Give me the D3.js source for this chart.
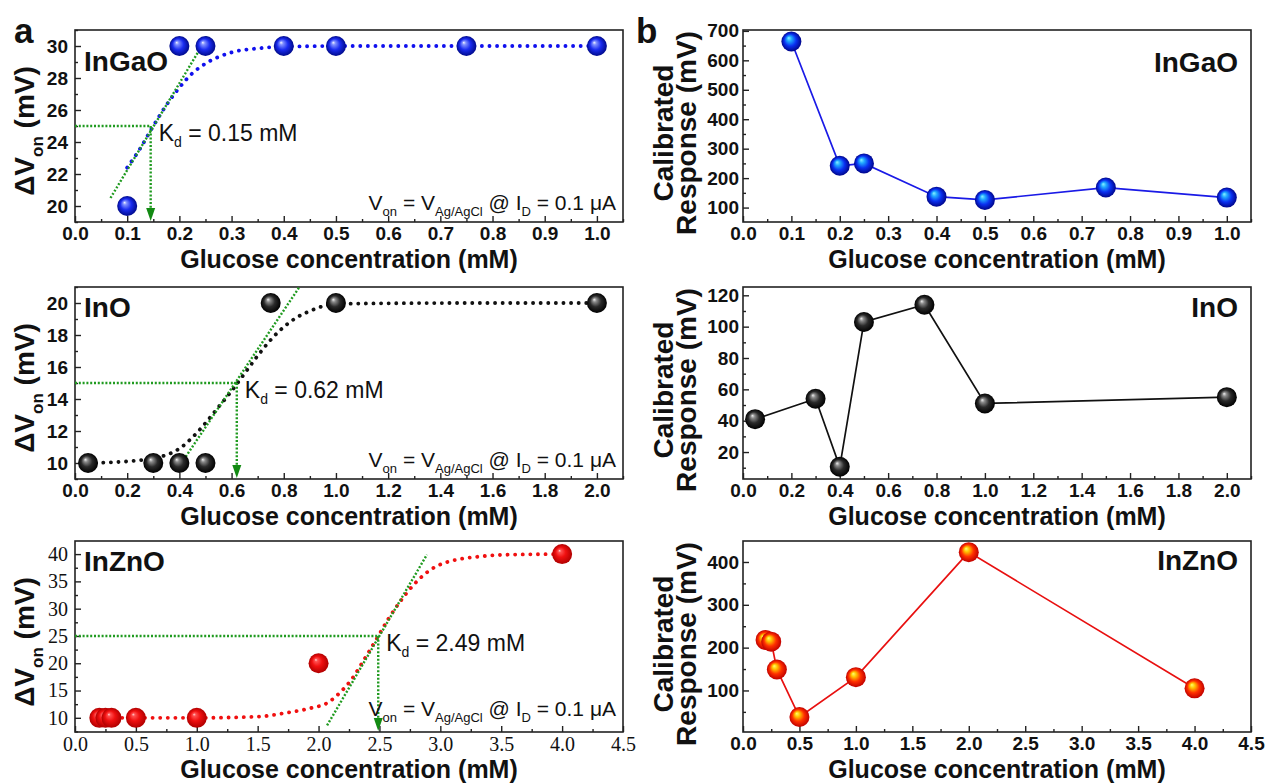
<!DOCTYPE html>
<html>
<head>
<meta charset="utf-8">
<title>Glucose response: InGaO, InO, InZnO</title>
<style>
    body { margin: 0; background: #fff; }
    text { font-family: "Liberation Sans", Arial, sans-serif; fill: #111; }
    .axis text { font-size: 19px; font-weight: bold; }
    .axis.serif text { font-family: "Liberation Serif", "Times New Roman", serif; font-weight: normal; font-size: 20px; }
    .xtitle { font-size: 25px; font-weight: bold; }
    .ytitle { font-size: 28px; font-weight: bold; }
    .panel-letter { font-size: 35px; font-weight: bold; }
    .material { font-size: 28px; font-weight: bold; }
    .kd { font-size: 23px; }
    .cond { font-size: 21px; }
    .frame { fill: none; stroke: #222; stroke-width: 1.6; }
</style>
</head>
<body>
<svg id="chart" width="1267" height="784"></svg>

<script src="https://cdn.jsdelivr.net/npm/d3@7"></script>
<script>
    // ---- panel a: threshold shift vs glucose, with fitted curve and tangent ----
    const concInGaO = [0.1, 0.2, 0.25, 0.4, 0.5, 0.75, 1.0];
    const dVonInGaO = [20, 30, 30, 30, 30, 30, 30];
    const fitXInGaO = [0.1, 0.125, 0.15, 0.175, 0.2, 0.225, 0.25, 0.3, 0.35, 0.4, 0.5, 0.75, 1.0];
    const fitYInGaO = [22.4, 23.6, 25, 26.3, 27.4, 28.3, 28.9, 29.6, 29.85, 29.95, 30, 30, 30];
    const tanXInGaO = [0.068, 0.254];
    const tanYInGaO = [20.5, 30.6];

    const concInO = [0.05, 0.3, 0.4, 0.5, 0.75, 1.0, 2.0];
    const dVonInO = [10, 10, 10, 10, 20, 20, 20];
    const fitXInO = [0.05, 0.2, 0.3, 0.35, 0.4, 0.45, 0.5, 0.55, 0.6, 0.65, 0.7, 0.75, 0.8, 0.85, 0.9, 0.95, 1.0, 1.5, 2.0];
    const fitYInO = [10, 10.1, 10.3, 10.5, 10.9, 11.6, 12.5, 13.5, 14.5, 15.6, 16.7, 17.7, 18.5, 19.1, 19.5, 19.8, 19.95, 20, 20];
    const tanXInO = [0.40, 0.86];
    const tanYInO = [9.8, 21];

    const concInZnO = [0.2, 0.25, 0.3, 0.5, 1.0, 2.0, 4.0];
    const dVonInZnO = [10, 10, 10, 10, 10, 20, 40];
    const fitXInZnO = [0.2, 0.5, 1.0, 1.5, 1.73, 1.94, 2.07, 2.17, 2.27, 2.37, 2.47, 2.57, 2.67, 2.77, 2.87, 2.97, 3.1, 3.3, 3.58, 4.0];
    const fitYInZnO = [10, 10, 10, 10.2, 10.9, 11.8, 12.7, 14.5, 17.0, 20.5, 24.2, 28.0, 31.3, 34.1, 36.3, 37.8, 38.8, 39.5, 39.9, 40];
    const tanXInZnO = [2.07, 2.89];
    const tanYInZnO = [8.6, 39.9];

    const kdText = ["0.15", "0.62", "2.49"];
    const kdX = [0.145, 0.62, 2.49];
    const halfY = [25, 15, 25];

    // ---- panel b: calibrated response ----
    const respInGaO = [664, 242, 250, 137, 126, 168, 134];
    const respInO = [41, 54, 10.6, 103, 114, 51, 55];
    const respInZnO = [218, 214, 149, 38, 131, 423, 105];

    // tick labels
    const xTicks1 = [0, 0.1, 0.2, 0.3, 0.4, 0.5, 0.6, 0.7, 0.8, 0.9, 1.0];
    const xTicks2 = [0, 0.2, 0.4, 0.6, 0.8, 1.0, 1.2, 1.4, 1.6, 1.8, 2.0];
    const xTicks3 = [0, 0.5, 1.0, 1.5, 2.0, 2.5, 3.0, 3.5, 4.0, 4.5];
    const yTicksA1 = [20, 22, 24, 26, 28, 30];
    const yTicksA2 = [10, 12, 14, 16, 18, 20];
    const yTicksA3 = [10, 15, 20, 25, 30, 35, 40];
    const yTicksB1 = [100, 200, 300, 400, 500, 600, 700];
    const yTicksB2 = [20, 40, 60, 80, 100, 120];
    const yTicksB3 = [100, 200, 300, 400];

    const svg = d3.select("#chart");
    const defs = svg.append("defs");

    function sphere(id, stops) {
        const gr = defs.append("radialGradient").attr("id", id)
            .attr("cx", "50%").attr("cy", "50%").attr("r", "50%")
            .attr("fx", "36%").attr("fy", "32%");
        stops.forEach(s => gr.append("stop").attr("offset", s[0]).attr("stop-color", s[1]));
    }
    sphere("blueA", [[0, "#f2f4ff"], [0.18, "#8090ff"], [0.55, "#1a2cf0"], [1, "#000a8a"]]);
    sphere("blueB", [[0, "#8af0ff"], [0.25, "#20a8ff"], [0.6, "#0a30f0"], [1, "#00058a"]]);
    sphere("black", [[0, "#f0f0f0"], [0.2, "#8a8a8a"], [0.55, "#2a2a2a"], [1, "#000"]]);
    sphere("redA", [[0, "#ffd6d6"], [0.15, "#ff5050"], [0.5, "#f01010"], [1, "#b00000"]]);
    sphere("orangeB", [[0, "#ffff70"], [0.25, "#ffc400"], [0.6, "#ff3000"], [1, "#c00000"]]);

    const aLeft = 75, aRight = 623, bLeft = 743, bRight = 1251;
    const rowTop = [30, 287, 541], rowBottom = [222, 479, 732];

    function minorTicks(domain, step, majors) {
        const out = [];
        for (let v = Math.ceil(domain[0] / step) * step; v <= domain[1] + 1e-9; v += step) {
            const r = +v.toFixed(4);
            if (!majors.some(m => Math.abs(m - r) < 1e-6)) out.push(r);
        }
        return out;
    }

    function panel(o) {
        const g = svg.append("g");
        const x = d3.scaleLinear().domain(o.xDomain).range([o.left, o.right]);
        const y = d3.scaleLinear().domain(o.yDomain).range([o.bottom, o.top]);
        const cls = o.serif ? "axis serif" : "axis";

        // x axis, ticks inward
        const xa = g.append("g").attr("class", cls).attr("color", "#222")
            .attr("transform", `translate(0,${o.bottom})`)
            .call(d3.axisBottom(x).tickValues(o.xTicks).tickSize(-6).tickPadding(5).tickFormat(d3.format(".1f")));
        xa.select(".domain").remove();
        xa.selectAll("line").attr("stroke-width", 1.4);
        const xm = g.append("g").attr("color", "#222").attr("transform", `translate(0,${o.bottom})`)
            .call(d3.axisBottom(x).tickValues(minorTicks(o.xDomain, o.xMinor, o.xTicks)).tickSize(-3).tickFormat(""));
        xm.select(".domain").remove();
        xm.selectAll("line").attr("stroke-width", 1.4);

        const ya = g.append("g").attr("class", cls).attr("color", "#222")
            .attr("transform", `translate(${o.left},0)`)
            .call(d3.axisLeft(y).tickValues(o.yTicks).tickSize(-6).tickPadding(o.yPad).tickFormat(d3.format("d")));
        ya.select(".domain").remove();
        ya.selectAll("line").attr("stroke-width", 1.4);
        const ym = g.append("g").attr("color", "#222").attr("transform", `translate(${o.left},0)`)
            .call(d3.axisLeft(y).tickValues(minorTicks(o.yDomain, o.yMinor, o.yTicks)).tickSize(-3).tickFormat(""));
        ym.select(".domain").remove();
        ym.selectAll("line").attr("stroke-width", 1.4);

        g.append("rect").attr("class", "frame")
            .attr("x", o.left).attr("y", o.top)
            .attr("width", o.right - o.left).attr("height", o.bottom - o.top);

        g.append("text").attr("class", "xtitle")
            .attr("x", (o.left + o.right) / 2).attr("y", o.bottom + 46)
            .attr("text-anchor", "middle").text("Glucose concentration (mM)");

        return { g, x, y };
    }

    function drawMarkers(p, xs, ys, fill) {
        p.g.append("g").selectAll("circle").data(xs).join("circle")
            .attr("cx", d => p.x(d)).attr("cy", (d, i) => p.y(ys[i]))
            .attr("r", 10).attr("fill", `url(#${fill})`);
    }

    // ---------------- panel a ----------------
    const aSets = [
        { conc: concInGaO, val: dVonInGaO, fx: fitXInGaO, fy: fitYInGaO, tx: tanXInGaO, ty: tanYInGaO,
          xDomain: [0, 1.05], yDomain: [19, 31], xTicks: xTicks1, xMinor: 0.05, yTicks: yTicksA1, yMinor: 1,
          color: "#1010ee", fill: "blueA", name: "InGaO", nameY: 71, serif: false, condY: 210 },
        { conc: concInO, val: dVonInO, fx: fitXInO, fy: fitYInO, tx: tanXInO, ty: tanYInO,
          xDomain: [0, 2.1], yDomain: [9, 21], xTicks: xTicks2, xMinor: 0.1, yTicks: yTicksA2, yMinor: 1,
          color: "#111", fill: "black", name: "InO", nameY: 317, serif: false, condY: 467 },
        { conc: concInZnO, val: dVonInZnO, fx: fitXInZnO, fy: fitYInZnO, tx: tanXInZnO, ty: tanYInZnO,
          xDomain: [0, 4.5], yDomain: [7.4, 42.4], xTicks: xTicks3, xMinor: 0.25, yTicks: yTicksA3, yMinor: 2.5,
          color: "#f01010", fill: "redA", name: "InZnO", nameY: 571, serif: true, condY: 716 }
    ];

    aSets.forEach((s, i) => {
        const p = panel({
            left: aLeft, right: aRight, top: rowTop[i], bottom: rowBottom[i],
            xDomain: s.xDomain, yDomain: s.yDomain, xTicks: s.xTicks, xMinor: s.xMinor,
            yTicks: s.yTicks, yMinor: s.yMinor, yPad: 7, serif: s.serif
        });
        const green = "#1f9a1f";

        // fitted curve (dotted)
        p.g.append("path")
            .attr("d", d3.line().x(d => p.x(d)).y((d, j) => p.y(s.fy[j])).curve(d3.curveMonotoneX)(s.fx))
            .attr("fill", "none").attr("stroke", s.color).attr("stroke-width", 3.8)
            .attr("stroke-linecap", "round").attr("stroke-dasharray", "0.1 7.5");

        // tangent line
        p.g.append("path")
            .attr("d", d3.line().x(d => p.x(d)).y((d, j) => p.y(s.ty[j]))(s.tx))
            .attr("fill", "none").attr("stroke", green).attr("stroke-width", 2.4)
            .attr("stroke-dasharray", "2 1.8");

        // half-response guide and Kd drop line with arrow
        const kx = p.x(kdX[i]), hy = p.y(halfY[i]);
        p.g.append("line").attr("x1", p.x(s.xDomain[0])).attr("x2", kx).attr("y1", hy).attr("y2", hy)
            .attr("stroke", green).attr("stroke-width", 2.4).attr("stroke-dasharray", "2 1.8");
        const yb = p.y(s.yDomain[0]);
        p.g.append("line").attr("x1", kx).attr("x2", kx).attr("y1", hy).attr("y2", yb - 10)
            .attr("stroke", green).attr("stroke-width", 2.4).attr("stroke-dasharray", "2 1.8");
        p.g.append("path")
            .attr("d", `M${kx - 4.5},${yb - 14}L${kx + 4.5},${yb - 14}L${kx},${yb - 1}Z`)
            .attr("fill", "#138a13");

        drawMarkers(p, s.conc, s.val, s.fill);

        // labels
        p.g.append("text").attr("class", "material").attr("x", 84).attr("y", s.nameY).text(s.name);

        const kt = p.g.append("text").attr("class", "kd").attr("x", kx + 8).attr("y", hy + 15);
        kt.append("tspan").text("K");
        kt.append("tspan").attr("font-size", 14).attr("dy", 6).text("d");
        kt.append("tspan").attr("dy", -6).text(" = " + kdText[i] + " mM");

        const ct = p.g.append("text").attr("class", "cond").attr("x", 616).attr("y", s.condY)
            .attr("text-anchor", "end");
        ct.append("tspan").text("V");
        ct.append("tspan").attr("font-size", 13).attr("dy", 6).text("on");
        ct.append("tspan").attr("dy", -6).text(" = V");
        ct.append("tspan").attr("font-size", 13).attr("dy", 6).text("Ag/AgCl");
        ct.append("tspan").attr("dy", -6).text(" @ I");
        ct.append("tspan").attr("font-size", 13).attr("dy", 6).text("D");
        ct.append("tspan").attr("dy", -6).text(" = 0.1 \u03BCA");

        // y title
        const yt = svg.append("text").attr("class", "ytitle")
            .attr("transform", `translate(34,${rowTop[i] + 101}) rotate(-90)`)
            .attr("text-anchor", "middle");
        yt.append("tspan").text("\u0394V");
        yt.append("tspan").attr("font-size", 17).attr("dy", 9).text("on");
        yt.append("tspan").attr("dy", -9).text(" (mV)");
    });

    // ---------------- panel b ----------------
    const bSets = [
        { conc: concInGaO, val: respInGaO, xDomain: [0, 1.05], yDomain: [51, 703], xTicks: xTicks1, xMinor: 0.05,
          yTicks: yTicksB1, yMinor: 50, color: "#1a1ae6", fill: "blueB", name: "InGaO", nameY: 72 },
        { conc: concInO, val: respInO, xDomain: [0, 2.1], yDomain: [2.8, 125.3], xTicks: xTicks2, xMinor: 0.1,
          yTicks: yTicksB2, yMinor: 10, color: "#111", fill: "black", name: "InO", nameY: 317 },
        { conc: concInZnO, val: respInZnO, xDomain: [0, 4.5], yDomain: [3, 449], xTicks: xTicks3, xMinor: 0.25,
          yTicks: yTicksB3, yMinor: 50, color: "#e81010", fill: "orangeB", name: "InZnO", nameY: 570 }
    ];

    bSets.forEach((s, i) => {
        const p = panel({
            left: bLeft, right: bRight, top: rowTop[i], bottom: rowBottom[i],
            xDomain: s.xDomain, yDomain: s.yDomain, xTicks: s.xTicks, xMinor: s.xMinor,
            yTicks: s.yTicks, yMinor: s.yMinor, yPad: 4, serif: false
        });

        p.g.append("path")
            .attr("d", d3.line().x(d => p.x(d)).y((d, j) => p.y(s.val[j]))(s.conc))
            .attr("fill", "none").attr("stroke", s.color).attr("stroke-width", 1.7);

        drawMarkers(p, s.conc, s.val, s.fill);

        p.g.append("text").attr("class", "material").attr("x", 1238).attr("y", s.nameY)
            .attr("text-anchor", "end").text(s.name);

        const cy = rowTop[i] + 103;
        svg.append("text").attr("class", "ytitle")
            .attr("transform", `translate(673,${cy}) rotate(-90)`)
            .attr("text-anchor", "middle").text("Calibrated");
        svg.append("text").attr("class", "ytitle")
            .attr("transform", `translate(696,${cy}) rotate(-90)`)
            .attr("text-anchor", "middle").text("Response (mV)");
    });

    svg.append("text").attr("class", "panel-letter").attr("x", 14).attr("y", 43).text("a");
    svg.append("text").attr("class", "panel-letter").attr("x", 636).attr("y", 43).text("b");
</script>
</body>
</html>
